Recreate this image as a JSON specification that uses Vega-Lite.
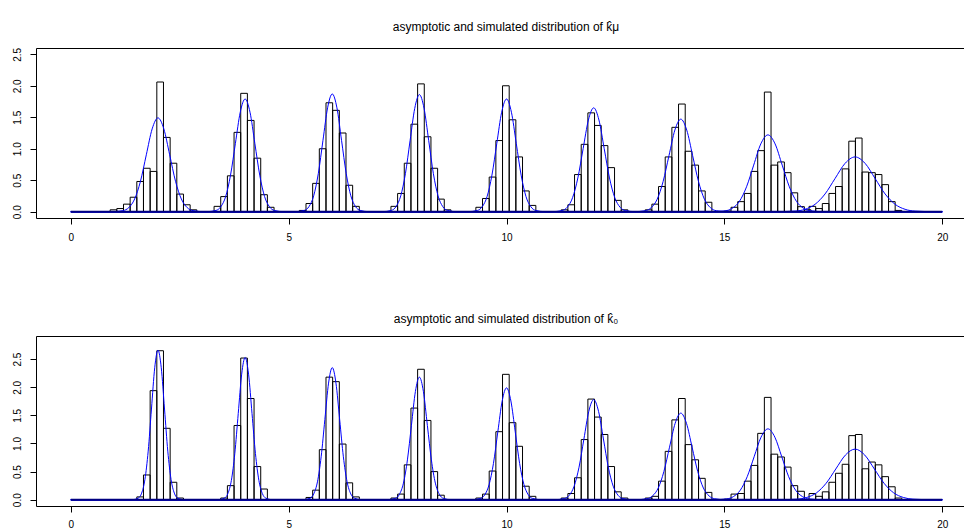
{
"$schema": "https://vega.github.io/schema/vega-lite/v6.json",
"padding": {"top": 21, "left": 0, "right": 0, "bottom": 0},
"autosize": {"type": "pad"},
"spacing": 71,
"config": {
 "view": {"stroke": null},
 "font": "Liberation Sans",
 "axis": {"domainColor": "black", "tickColor": "black", "labelColor": "black", "labelFont": "Liberation Sans", "labelFontSize": 10, "grid": false, "domainWidth": 1, "tickWidth": 1}
},
"datasets": {
 "barsMu": [
  {"x0":0.902,"x1":1.055,"h":0.03},{"x0":1.055,"x1":1.208,"h":0.05},{"x0":1.208,"x1":1.361,"h":0.12},{"x0":1.361,"x1":1.514,"h":0.23},{"x0":1.514,"x1":1.667,"h":0.48},{"x0":1.667,"x1":1.82,"h":0.69},{"x0":1.82,"x1":1.973,"h":0.64},{"x0":1.973,"x1":2.126,"h":2.06},{"x0":2.126,"x1":2.279,"h":1.18},{"x0":2.279,"x1":2.432,"h":0.77},{"x0":2.432,"x1":2.585,"h":0.28},{"x0":2.585,"x1":2.738,"h":0.11},{"x0":2.738,"x1":2.891,"h":0.03},
  {"x0":3.287,"x1":3.44,"h":0.085},{"x0":3.44,"x1":3.593,"h":0.24},{"x0":3.593,"x1":3.746,"h":0.57},{"x0":3.746,"x1":3.899,"h":1.26},{"x0":3.899,"x1":4.052,"h":1.88},{"x0":4.052,"x1":4.205,"h":1.45},{"x0":4.205,"x1":4.358,"h":0.85},{"x0":4.358,"x1":4.511,"h":0.27},{"x0":4.511,"x1":4.664,"h":0.07},
  {"x0":5.244,"x1":5.397,"h":0.02},{"x0":5.397,"x1":5.55,"h":0.13},{"x0":5.55,"x1":5.703,"h":0.45},{"x0":5.703,"x1":5.856,"h":1.0},{"x0":5.856,"x1":6.009,"h":1.73},{"x0":6.009,"x1":6.162,"h":1.61},{"x0":6.162,"x1":6.315,"h":1.25},{"x0":6.315,"x1":6.468,"h":0.42},{"x0":6.468,"x1":6.621,"h":0.085},
  {"x0":7.347,"x1":7.5,"h":0.085},{"x0":7.5,"x1":7.653,"h":0.29},{"x0":7.653,"x1":7.806,"h":0.77},{"x0":7.806,"x1":7.959,"h":1.39},{"x0":7.959,"x1":8.112,"h":2.03},{"x0":8.112,"x1":8.265,"h":1.19},{"x0":8.265,"x1":8.418,"h":0.69},{"x0":8.418,"x1":8.571,"h":0.2},{"x0":8.571,"x1":8.724,"h":0.03},
  {"x0":9.296,"x1":9.449,"h":0.07},{"x0":9.449,"x1":9.602,"h":0.21},{"x0":9.602,"x1":9.755,"h":0.55},{"x0":9.755,"x1":9.908,"h":1.13},{"x0":9.908,"x1":10.061,"h":2.0},{"x0":10.061,"x1":10.214,"h":1.46},{"x0":10.214,"x1":10.367,"h":0.87},{"x0":10.367,"x1":10.52,"h":0.33},{"x0":10.52,"x1":10.673,"h":0.1},
  {"x0":11.255,"x1":11.408,"h":0.03},{"x0":11.408,"x1":11.561,"h":0.11},{"x0":11.561,"x1":11.714,"h":0.59},{"x0":11.714,"x1":11.867,"h":1.07},{"x0":11.867,"x1":12.02,"h":1.57},{"x0":12.02,"x1":12.173,"h":1.37},{"x0":12.173,"x1":12.326,"h":1.05},{"x0":12.326,"x1":12.479,"h":0.7},{"x0":12.479,"x1":12.632,"h":0.18},{"x0":12.632,"x1":12.785,"h":0.03},
  {"x0":13.183,"x1":13.336,"h":0.03},{"x0":13.336,"x1":13.489,"h":0.12},{"x0":13.489,"x1":13.642,"h":0.4},{"x0":13.642,"x1":13.795,"h":0.87},{"x0":13.795,"x1":13.948,"h":1.34},{"x0":13.948,"x1":14.101,"h":1.71},{"x0":14.101,"x1":14.254,"h":0.96},{"x0":14.254,"x1":14.407,"h":0.74},{"x0":14.407,"x1":14.56,"h":0.33},{"x0":14.56,"x1":14.713,"h":0.15},
  {"x0":15.0,"x1":15.153,"h":0.01},{"x0":15.153,"x1":15.306,"h":0.07},{"x0":15.306,"x1":15.459,"h":0.16},{"x0":15.459,"x1":15.612,"h":0.29},{"x0":15.612,"x1":15.765,"h":0.64},{"x0":15.765,"x1":15.918,"h":0.97},{"x0":15.918,"x1":16.071,"h":1.9},{"x0":16.071,"x1":16.224,"h":0.74},{"x0":16.224,"x1":16.377,"h":0.79},{"x0":16.377,"x1":16.53,"h":0.62},{"x0":16.53,"x1":16.683,"h":0.3},{"x0":16.683,"x1":16.836,"h":0.08},{"x0":16.836,"x1":16.989,"h":0.03},
  {"x0":16.944,"x1":17.096,"h":0.085},{"x0":17.096,"x1":17.248,"h":0.05},{"x0":17.248,"x1":17.4,"h":0.13},{"x0":17.4,"x1":17.552,"h":0.29},{"x0":17.552,"x1":17.704,"h":0.4},{"x0":17.704,"x1":17.856,"h":0.68},{"x0":17.856,"x1":18.008,"h":1.12},{"x0":18.008,"x1":18.16,"h":1.17},{"x0":18.16,"x1":18.312,"h":0.63},{"x0":18.312,"x1":18.464,"h":0.62},{"x0":18.464,"x1":18.616,"h":0.59},{"x0":18.616,"x1":18.768,"h":0.43},{"x0":18.768,"x1":18.92,"h":0.16},{"x0":18.92,"x1":19.072,"h":0.02}
 ],
 "barsZero": [
  {"x0":1.514,"x1":1.667,"h":0.05},{"x0":1.667,"x1":1.82,"h":0.44},{"x0":1.82,"x1":1.973,"h":1.94},{"x0":1.973,"x1":2.126,"h":2.65},{"x0":2.126,"x1":2.279,"h":1.27},{"x0":2.279,"x1":2.432,"h":0.31},{"x0":2.432,"x1":2.585,"h":0.03},
  {"x0":3.44,"x1":3.593,"h":0.03},{"x0":3.593,"x1":3.746,"h":0.25},{"x0":3.746,"x1":3.899,"h":1.32},{"x0":3.899,"x1":4.052,"h":2.52},{"x0":4.052,"x1":4.205,"h":1.8},{"x0":4.205,"x1":4.358,"h":0.59},{"x0":4.358,"x1":4.511,"h":0.19},
  {"x0":5.397,"x1":5.55,"h":0.04},{"x0":5.55,"x1":5.703,"h":0.17},{"x0":5.703,"x1":5.856,"h":0.89},{"x0":5.856,"x1":6.009,"h":2.18},{"x0":6.009,"x1":6.162,"h":2.1},{"x0":6.162,"x1":6.315,"h":0.99},{"x0":6.315,"x1":6.468,"h":0.3},{"x0":6.468,"x1":6.621,"h":0.05},
  {"x0":7.347,"x1":7.5,"h":0.03},{"x0":7.5,"x1":7.653,"h":0.1},{"x0":7.653,"x1":7.806,"h":0.62},{"x0":7.806,"x1":7.959,"h":1.63},{"x0":7.959,"x1":8.112,"h":2.32},{"x0":8.112,"x1":8.265,"h":1.41},{"x0":8.265,"x1":8.418,"h":0.5},{"x0":8.418,"x1":8.571,"h":0.08},
  {"x0":9.296,"x1":9.449,"h":0.03},{"x0":9.449,"x1":9.602,"h":0.1},{"x0":9.602,"x1":9.755,"h":0.51},{"x0":9.755,"x1":9.908,"h":1.21},{"x0":9.908,"x1":10.061,"h":2.23},{"x0":10.061,"x1":10.214,"h":1.37},{"x0":10.214,"x1":10.367,"h":0.95},{"x0":10.367,"x1":10.52,"h":0.24},{"x0":10.52,"x1":10.673,"h":0.06},
  {"x0":11.255,"x1":11.408,"h":0.03},{"x0":11.408,"x1":11.561,"h":0.11},{"x0":11.561,"x1":11.714,"h":0.39},{"x0":11.714,"x1":11.867,"h":1.07},{"x0":11.867,"x1":12.02,"h":1.79},{"x0":12.02,"x1":12.173,"h":1.47},{"x0":12.173,"x1":12.326,"h":1.16},{"x0":12.326,"x1":12.479,"h":0.59},{"x0":12.479,"x1":12.632,"h":0.14},{"x0":12.632,"x1":12.785,"h":0.03},
  {"x0":13.183,"x1":13.336,"h":0.03},{"x0":13.336,"x1":13.489,"h":0.06},{"x0":13.489,"x1":13.642,"h":0.33},{"x0":13.642,"x1":13.795,"h":0.86},{"x0":13.795,"x1":13.948,"h":1.42},{"x0":13.948,"x1":14.101,"h":1.8},{"x0":14.101,"x1":14.254,"h":0.98},{"x0":14.254,"x1":14.407,"h":0.71},{"x0":14.407,"x1":14.56,"h":0.38},{"x0":14.56,"x1":14.713,"h":0.13},
  {"x0":15.0,"x1":15.153,"h":0.01},{"x0":15.153,"x1":15.306,"h":0.1},{"x0":15.306,"x1":15.459,"h":0.11},{"x0":15.459,"x1":15.612,"h":0.33},{"x0":15.612,"x1":15.765,"h":0.61},{"x0":15.765,"x1":15.918,"h":1.18},{"x0":15.918,"x1":16.071,"h":1.82},{"x0":16.071,"x1":16.224,"h":0.81},{"x0":16.224,"x1":16.377,"h":0.76},{"x0":16.377,"x1":16.53,"h":0.58},{"x0":16.53,"x1":16.683,"h":0.25},{"x0":16.683,"x1":16.836,"h":0.15},
  {"x0":16.944,"x1":17.096,"h":0.11},{"x0":17.096,"x1":17.248,"h":0.06},{"x0":17.248,"x1":17.4,"h":0.14},{"x0":17.4,"x1":17.552,"h":0.31},{"x0":17.552,"x1":17.704,"h":0.47},{"x0":17.704,"x1":17.856,"h":0.63},{"x0":17.856,"x1":18.008,"h":1.14},{"x0":18.008,"x1":18.16,"h":1.16},{"x0":18.16,"x1":18.312,"h":0.55},{"x0":18.312,"x1":18.464,"h":0.67},{"x0":18.464,"x1":18.616,"h":0.62},{"x0":18.616,"x1":18.768,"h":0.41},{"x0":18.768,"x1":18.92,"h":0.23},{"x0":18.92,"x1":19.072,"h":0.03}
 ],
 "curvesMu": [
  {"g":2,"x":0,"y":0},{"g":2,"x":0.928,"y":0},{"g":2,"x":1.196,"y":0.017},{"g":2,"x":1.33,"y":0.065},{"g":2,"x":1.464,"y":0.202},{"g":2,"x":1.598,"y":0.484},{"g":2,"x":1.732,"y":0.904},{"g":2,"x":1.866,"y":1.315},{"g":2,"x":2,"y":1.49},{"g":2,"x":2.134,"y":1.315},{"g":2,"x":2.268,"y":0.904},{"g":2,"x":2.402,"y":0.484},{"g":2,"x":2.536,"y":0.202},{"g":2,"x":2.67,"y":0.065},{"g":2,"x":2.804,"y":0.017},{"g":2,"x":3.072,"y":0},{"g":2,"x":20,"y":0},
  {"g":4,"x":0,"y":0},{"g":4,"x":3.108,"y":0},{"g":4,"x":3.331,"y":0.02},{"g":4,"x":3.442,"y":0.079},{"g":4,"x":3.554,"y":0.242},{"g":4,"x":3.665,"y":0.581},{"g":4,"x":3.777,"y":1.086},{"g":4,"x":3.888,"y":1.58},{"g":4,"x":4,"y":1.79},{"g":4,"x":4.112,"y":1.58},{"g":4,"x":4.223,"y":1.086},{"g":4,"x":4.335,"y":0.581},{"g":4,"x":4.446,"y":0.242},{"g":4,"x":4.558,"y":0.079},{"g":4,"x":4.669,"y":0.02},{"g":4,"x":4.892,"y":0},{"g":4,"x":20,"y":0},
  {"g":6,"x":0,"y":0},{"g":6,"x":5.148,"y":0},{"g":6,"x":5.361,"y":0.021},{"g":6,"x":5.467,"y":0.082},{"g":6,"x":5.574,"y":0.253},{"g":6,"x":5.68,"y":0.607},{"g":6,"x":5.787,"y":1.134},{"g":6,"x":5.893,"y":1.65},{"g":6,"x":6,"y":1.87},{"g":6,"x":6.107,"y":1.65},{"g":6,"x":6.213,"y":1.134},{"g":6,"x":6.32,"y":0.607},{"g":6,"x":6.426,"y":0.253},{"g":6,"x":6.533,"y":0.082},{"g":6,"x":6.639,"y":0.021},{"g":6,"x":6.852,"y":0},{"g":6,"x":20,"y":0},
  {"g":8,"x":0,"y":0},{"g":8,"x":7.144,"y":0},{"g":8,"x":7.358,"y":0.021},{"g":8,"x":7.465,"y":0.082},{"g":8,"x":7.572,"y":0.252},{"g":8,"x":7.679,"y":0.604},{"g":8,"x":7.786,"y":1.128},{"g":8,"x":7.893,"y":1.641},{"g":8,"x":8,"y":1.86},{"g":8,"x":8.107,"y":1.641},{"g":8,"x":8.214,"y":1.128},{"g":8,"x":8.321,"y":0.604},{"g":8,"x":8.428,"y":0.252},{"g":8,"x":8.535,"y":0.082},{"g":8,"x":8.642,"y":0.021},{"g":8,"x":8.856,"y":0},{"g":8,"x":20,"y":0},
  {"g":10,"x":0,"y":0},{"g":10,"x":9.108,"y":0},{"g":10,"x":9.331,"y":0.02},{"g":10,"x":9.442,"y":0.079},{"g":10,"x":9.554,"y":0.242},{"g":10,"x":9.665,"y":0.581},{"g":10,"x":9.777,"y":1.086},{"g":10,"x":9.888,"y":1.58},{"g":10,"x":10,"y":1.79},{"g":10,"x":10.112,"y":1.58},{"g":10,"x":10.223,"y":1.086},{"g":10,"x":10.335,"y":0.581},{"g":10,"x":10.446,"y":0.242},{"g":10,"x":10.558,"y":0.079},{"g":10,"x":10.669,"y":0.02},{"g":10,"x":10.892,"y":0},{"g":10,"x":20,"y":0},
  {"g":12,"x":0,"y":0},{"g":12,"x":11.032,"y":0},{"g":12,"x":11.274,"y":0.018},{"g":12,"x":11.395,"y":0.072},{"g":12,"x":11.516,"y":0.223},{"g":12,"x":11.637,"y":0.536},{"g":12,"x":11.758,"y":1.001},{"g":12,"x":11.879,"y":1.456},{"g":12,"x":12,"y":1.65},{"g":12,"x":12.121,"y":1.456},{"g":12,"x":12.242,"y":1.001},{"g":12,"x":12.363,"y":0.536},{"g":12,"x":12.484,"y":0.223},{"g":12,"x":12.605,"y":0.072},{"g":12,"x":12.726,"y":0.018},{"g":12,"x":12.968,"y":0},{"g":12,"x":20,"y":0},
  {"g":14,"x":0,"y":0},{"g":14,"x":12.916,"y":0},{"g":14,"x":13.187,"y":0.016},{"g":14,"x":13.322,"y":0.065},{"g":14,"x":13.458,"y":0.199},{"g":14,"x":13.593,"y":0.477},{"g":14,"x":13.729,"y":0.892},{"g":14,"x":13.864,"y":1.297},{"g":14,"x":14,"y":1.47},{"g":14,"x":14.136,"y":1.297},{"g":14,"x":14.271,"y":0.892},{"g":14,"x":14.407,"y":0.477},{"g":14,"x":14.542,"y":0.199},{"g":14,"x":14.678,"y":0.065},{"g":14,"x":14.813,"y":0.016},{"g":14,"x":15.084,"y":0},{"g":14,"x":20,"y":0},
  {"g":16,"x":0,"y":0},{"g":16,"x":14.692,"y":0},{"g":16,"x":15.019,"y":0.014},{"g":16,"x":15.182,"y":0.054},{"g":16,"x":15.346,"y":0.165},{"g":16,"x":15.509,"y":0.396},{"g":16,"x":15.673,"y":0.74},{"g":16,"x":15.836,"y":1.077},{"g":16,"x":16,"y":1.22},{"g":16,"x":16.164,"y":1.077},{"g":16,"x":16.327,"y":0.74},{"g":16,"x":16.491,"y":0.396},{"g":16,"x":16.654,"y":0.165},{"g":16,"x":16.818,"y":0.054},{"g":16,"x":16.981,"y":0.014},{"g":16,"x":17.308,"y":0},{"g":16,"x":20,"y":0},
  {"g":18,"x":0,"y":0},{"g":18,"x":16.164,"y":0},{"g":18,"x":16.623,"y":0.01},{"g":18,"x":16.852,"y":0.038},{"g":18,"x":17.082,"y":0.118},{"g":18,"x":17.311,"y":0.282},{"g":18,"x":17.541,"y":0.528},{"g":18,"x":17.77,"y":0.768},{"g":18,"x":18,"y":0.87},{"g":18,"x":18.23,"y":0.768},{"g":18,"x":18.459,"y":0.528},{"g":18,"x":18.689,"y":0.282},{"g":18,"x":18.918,"y":0.118},{"g":18,"x":19.148,"y":0.038},{"g":18,"x":19.377,"y":0.01},{"g":18,"x":19.836,"y":0},{"g":18,"x":20,"y":0}
 ],
 "curvesZero": [
  {"g":2,"x":0,"y":0},{"g":2,"x":1.4,"y":0},{"g":2,"x":1.55,"y":0.03},{"g":2,"x":1.625,"y":0.117},{"g":2,"x":1.7,"y":0.36},{"g":2,"x":1.775,"y":0.864},{"g":2,"x":1.85,"y":1.613},{"g":2,"x":1.925,"y":2.347},{"g":2,"x":2,"y":2.66},{"g":2,"x":2.075,"y":2.347},{"g":2,"x":2.15,"y":1.613},{"g":2,"x":2.225,"y":0.864},{"g":2,"x":2.3,"y":0.36},{"g":2,"x":2.375,"y":0.117},{"g":2,"x":2.45,"y":0.03},{"g":2,"x":2.6,"y":0},{"g":2,"x":20,"y":0},
  {"g":4,"x":0,"y":0},{"g":4,"x":3.368,"y":0},{"g":4,"x":3.526,"y":0.028},{"g":4,"x":3.605,"y":0.111},{"g":4,"x":3.684,"y":0.342},{"g":4,"x":3.763,"y":0.821},{"g":4,"x":3.842,"y":1.534},{"g":4,"x":3.921,"y":2.233},{"g":4,"x":4,"y":2.53},{"g":4,"x":4.079,"y":2.233},{"g":4,"x":4.158,"y":1.534},{"g":4,"x":4.237,"y":0.821},{"g":4,"x":4.316,"y":0.342},{"g":4,"x":4.395,"y":0.111},{"g":4,"x":4.474,"y":0.028},{"g":4,"x":4.632,"y":0},{"g":4,"x":20,"y":0},
  {"g":6,"x":0,"y":0},{"g":6,"x":5.32,"y":0},{"g":6,"x":5.49,"y":0.026},{"g":6,"x":5.575,"y":0.103},{"g":6,"x":5.66,"y":0.318},{"g":6,"x":5.745,"y":0.763},{"g":6,"x":5.83,"y":1.425},{"g":6,"x":5.915,"y":2.074},{"g":6,"x":6,"y":2.35},{"g":6,"x":6.085,"y":2.074},{"g":6,"x":6.17,"y":1.425},{"g":6,"x":6.255,"y":0.763},{"g":6,"x":6.34,"y":0.318},{"g":6,"x":6.425,"y":0.103},{"g":6,"x":6.51,"y":0.026},{"g":6,"x":6.68,"y":0},{"g":6,"x":20,"y":0},
  {"g":8,"x":0,"y":0},{"g":8,"x":7.268,"y":0},{"g":8,"x":7.451,"y":0.024},{"g":8,"x":7.542,"y":0.096},{"g":8,"x":7.634,"y":0.295},{"g":8,"x":7.725,"y":0.708},{"g":8,"x":7.817,"y":1.322},{"g":8,"x":7.908,"y":1.924},{"g":8,"x":8,"y":2.18},{"g":8,"x":8.092,"y":1.924},{"g":8,"x":8.183,"y":1.322},{"g":8,"x":8.275,"y":0.708},{"g":8,"x":8.366,"y":0.295},{"g":8,"x":8.458,"y":0.096},{"g":8,"x":8.549,"y":0.024},{"g":8,"x":8.732,"y":0},{"g":8,"x":20,"y":0},
  {"g":10,"x":0,"y":0},{"g":10,"x":9.2,"y":0},{"g":10,"x":9.4,"y":0.022},{"g":10,"x":9.5,"y":0.087},{"g":10,"x":9.6,"y":0.269},{"g":10,"x":9.7,"y":0.646},{"g":10,"x":9.8,"y":1.207},{"g":10,"x":9.9,"y":1.756},{"g":10,"x":10,"y":1.99},{"g":10,"x":10.1,"y":1.756},{"g":10,"x":10.2,"y":1.207},{"g":10,"x":10.3,"y":0.646},{"g":10,"x":10.4,"y":0.269},{"g":10,"x":10.5,"y":0.087},{"g":10,"x":10.6,"y":0.022},{"g":10,"x":10.8,"y":0},{"g":10,"x":20,"y":0},
  {"g":12,"x":0,"y":0},{"g":12,"x":11.104,"y":0},{"g":12,"x":11.328,"y":0.02},{"g":12,"x":11.44,"y":0.078},{"g":12,"x":11.552,"y":0.241},{"g":12,"x":11.664,"y":0.578},{"g":12,"x":11.776,"y":1.08},{"g":12,"x":11.888,"y":1.571},{"g":12,"x":12,"y":1.78},{"g":12,"x":12.112,"y":1.571},{"g":12,"x":12.224,"y":1.08},{"g":12,"x":12.336,"y":0.578},{"g":12,"x":12.448,"y":0.241},{"g":12,"x":12.56,"y":0.078},{"g":12,"x":12.672,"y":0.02},{"g":12,"x":12.896,"y":0},{"g":12,"x":20,"y":0},
  {"g":14,"x":0,"y":0},{"g":14,"x":12.964,"y":0},{"g":14,"x":13.223,"y":0.017},{"g":14,"x":13.352,"y":0.068},{"g":14,"x":13.482,"y":0.208},{"g":14,"x":13.611,"y":0.5},{"g":14,"x":13.741,"y":0.934},{"g":14,"x":13.87,"y":1.359},{"g":14,"x":14,"y":1.54},{"g":14,"x":14.13,"y":1.359},{"g":14,"x":14.259,"y":0.934},{"g":14,"x":14.389,"y":0.5},{"g":14,"x":14.518,"y":0.208},{"g":14,"x":14.648,"y":0.068},{"g":14,"x":14.777,"y":0.017},{"g":14,"x":15.036,"y":0},{"g":14,"x":20,"y":0},
  {"g":16,"x":0,"y":0},{"g":16,"x":14.732,"y":0},{"g":16,"x":15.049,"y":0.014},{"g":16,"x":15.207,"y":0.055},{"g":16,"x":15.366,"y":0.17},{"g":16,"x":15.524,"y":0.409},{"g":16,"x":15.683,"y":0.764},{"g":16,"x":15.841,"y":1.112},{"g":16,"x":16,"y":1.26},{"g":16,"x":16.159,"y":1.112},{"g":16,"x":16.317,"y":0.764},{"g":16,"x":16.476,"y":0.409},{"g":16,"x":16.634,"y":0.17},{"g":16,"x":16.793,"y":0.055},{"g":16,"x":16.951,"y":0.014},{"g":16,"x":17.268,"y":0},{"g":16,"x":20,"y":0},
  {"g":18,"x":0,"y":0},{"g":18,"x":16.228,"y":0},{"g":18,"x":16.671,"y":0.01},{"g":18,"x":16.892,"y":0.04},{"g":18,"x":17.114,"y":0.122},{"g":18,"x":17.335,"y":0.292},{"g":18,"x":17.557,"y":0.546},{"g":18,"x":17.778,"y":0.794},{"g":18,"x":18,"y":0.9},{"g":18,"x":18.222,"y":0.794},{"g":18,"x":18.443,"y":0.546},{"g":18,"x":18.665,"y":0.292},{"g":18,"x":18.886,"y":0.122},{"g":18,"x":19.108,"y":0.04},{"g":18,"x":19.329,"y":0.01},{"g":18,"x":19.772,"y":0},{"g":18,"x":20,"y":0}
 ]
},
"vconcat": [
 {
  "width": 928, "height": 170,
  "title": {"text": "asymptotic and simulated distribution of k\u0302\u03bc", "font": "Liberation Sans", "fontSize": 12, "fontWeight": "normal", "color": "black", "anchor": "middle", "frame": "group", "baseline": "alphabetic", "offset": 4.3, "dx": 6},
  "resolve": {"axis": {"x": "independent"}},
  "layer": [
   {"data": {"name": "barsMu"},
    "mark": {"type": "rect", "fill": "transparent", "stroke": "black", "strokeWidth": 1},
    "encoding": {
     "x": {"field": "x0", "type": "quantitative", "scale": {"domain": [-0.8, 20.5], "nice": false, "zero": false},
      "axis": {"orient": "bottom", "title": null, "values": [0, 5, 10, 15, 20], "format": "d", "tickSize": 6, "labelPadding": 16, "labelBaseline": "alphabetic", "labelAlign": "center", "labelFlush": false, "labelOverlap": false, "minExtent": 23, "maxExtent": 23}},
     "x2": {"field": "x1"},
     "y": {"field": "h", "type": "quantitative", "scale": {"domain": [-0.1, 2.6], "nice": false, "zero": false},
      "axis": {"orient": "left", "title": null, "values": [0, 0.5, 1, 1.5, 2, 2.5], "format": ".1f", "labelAngle": 270, "labelAlign": "center", "labelBaseline": "alphabetic", "labelPadding": 10, "tickSize": 6, "labelFlush": false, "labelOverlap": false, "minExtent": 36, "maxExtent": 36}},
     "y2": {"datum": 0}
    }},
   {"data": {"name": "curvesMu"},
    "mark": {"type": "line", "color": "#0000ff", "strokeWidth": 1, "interpolate": "monotone"},
    "encoding": {
     "x": {"field": "x", "type": "quantitative", "axis": {"orient": "top", "title": null, "labels": false, "ticks": false, "domain": true, "minExtent": 0, "maxExtent": 0}},
     "y": {"field": "y", "type": "quantitative", "axis": {"orient": "left", "title": null, "values": [0, 0.5, 1, 1.5, 2, 2.5], "format": ".1f", "labelAngle": 270, "labelAlign": "center", "labelBaseline": "alphabetic", "labelPadding": 10, "tickSize": 6, "labelFlush": false, "labelOverlap": false, "minExtent": 36, "maxExtent": 36}},
     "detail": {"field": "g", "type": "nominal"}
    }},
   {"data": {"name": "curvesMu"},
    "mark": {"type": "rule", "color": "#000080", "strokeWidth": 2},
    "encoding": {
     "x": {"aggregate": "min", "field": "x", "type": "quantitative", "axis": null},
     "x2": {"aggregate": "max", "field": "x"},
     "y": {"aggregate": "min", "field": "y", "type": "quantitative", "axis": {"orient": "left", "title": null, "values": [0, 0.5, 1, 1.5, 2, 2.5], "format": ".1f", "labelAngle": 270, "labelAlign": "center", "labelBaseline": "alphabetic", "labelPadding": 10, "tickSize": 6, "labelFlush": false, "labelOverlap": false, "minExtent": 36, "maxExtent": 36}}
    }}
  ]
 },
 {
  "width": 928, "height": 170,
  "title": {"text": "asymptotic and simulated distribution of k\u0302\u2080", "font": "Liberation Sans", "fontSize": 12, "fontWeight": "normal", "color": "black", "anchor": "middle", "frame": "group", "baseline": "alphabetic", "offset": 1, "dx": 6},
  "resolve": {"axis": {"x": "independent"}},
  "layer": [
   {"data": {"name": "barsZero"},
    "mark": {"type": "rect", "fill": "transparent", "stroke": "black", "strokeWidth": 1},
    "encoding": {
     "x": {"field": "x0", "type": "quantitative", "scale": {"domain": [-0.8, 20.5], "nice": false, "zero": false},
      "axis": {"orient": "bottom", "title": null, "values": [0, 5, 10, 15, 20], "format": "d", "tickSize": 6, "labelPadding": 15, "labelBaseline": "alphabetic", "labelAlign": "center", "labelFlush": false, "labelOverlap": false, "minExtent": 23, "maxExtent": 23}},
     "x2": {"field": "x1"},
     "y": {"field": "h", "type": "quantitative", "scale": {"domain": [-0.112, 2.912], "nice": false, "zero": false},
      "axis": {"orient": "left", "title": null, "values": [0, 0.5, 1, 1.5, 2, 2.5], "format": ".1f", "labelAngle": 270, "labelAlign": "center", "labelBaseline": "alphabetic", "labelPadding": 10, "tickSize": 6, "labelFlush": false, "labelOverlap": false, "minExtent": 36, "maxExtent": 36}},
     "y2": {"datum": 0}
    }},
   {"data": {"name": "curvesZero"},
    "mark": {"type": "line", "color": "#0000ff", "strokeWidth": 1, "interpolate": "monotone"},
    "encoding": {
     "x": {"field": "x", "type": "quantitative", "axis": {"orient": "top", "title": null, "labels": false, "ticks": false, "domain": true, "minExtent": 0, "maxExtent": 0}},
     "y": {"field": "y", "type": "quantitative", "axis": {"orient": "left", "title": null, "values": [0, 0.5, 1, 1.5, 2, 2.5], "format": ".1f", "labelAngle": 270, "labelAlign": "center", "labelBaseline": "alphabetic", "labelPadding": 10, "tickSize": 6, "labelFlush": false, "labelOverlap": false, "minExtent": 36, "maxExtent": 36}},
     "detail": {"field": "g", "type": "nominal"}
    }},
   {"data": {"name": "curvesZero"},
    "mark": {"type": "rule", "color": "#000080", "strokeWidth": 2},
    "encoding": {
     "x": {"aggregate": "min", "field": "x", "type": "quantitative", "axis": null},
     "x2": {"aggregate": "max", "field": "x"},
     "y": {"aggregate": "min", "field": "y", "type": "quantitative", "axis": {"orient": "left", "title": null, "values": [0, 0.5, 1, 1.5, 2, 2.5], "format": ".1f", "labelAngle": 270, "labelAlign": "center", "labelBaseline": "alphabetic", "labelPadding": 10, "tickSize": 6, "labelFlush": false, "labelOverlap": false, "minExtent": 36, "maxExtent": 36}}
    }}
  ]
 }
]
}
